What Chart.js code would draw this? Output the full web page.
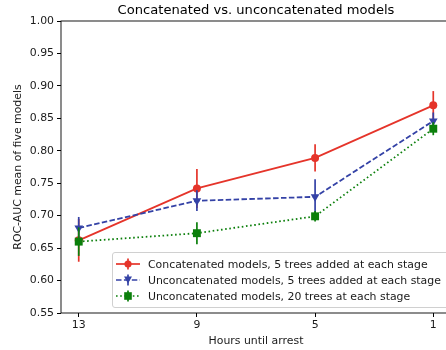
<!DOCTYPE html>
<html>
<head>
<meta charset="utf-8">
<script src="https://cdn.jsdelivr.net/npm/chart.js@4.4.1/dist/chart.umd.min.js"></script>
<style>
  html, body { margin: 0; padding: 0; overflow: hidden; background: #fff; }
  #wrap { position: relative; width: 512px; height: 350px; }
  #title {
    position: absolute; left: 56px; width: 400px; top: 2px; text-align: center;
    font-family: 'DejaVu Sans', sans-serif; font-size: 13.1px; color: #000; line-height: 16px;
  }
  #legend {
    position: absolute; left: 112px; top: 252px; width: 345px; height: 56px;
    border: 1px solid #d0d0d0; border-radius: 3px; background: rgba(255,255,255,0.85);
    font-family: 'DejaVu Sans', sans-serif; font-size: 10.9px; color: #1a1a1a;
    box-sizing: border-box; padding-top: 3px;
  }
  .row { height: 16px; display: flex; align-items: center; white-space: nowrap; }
  .row svg { margin-left: 2px; margin-right: 7px; flex: none; }
</style>
</head>
<body>
<div id="wrap">
  <canvas id="rocChart" width="512" height="350"></canvas>
  <div id="title">Concatenated vs. unconcatenated models</div>
  <div id="legend"></div>
</div>
<script>
// data
var hours = [13, 9, 5, 1];
var xTicks = [13, 9, 5, 1];
var seriesNames = [
  "Concatenated models, 5 trees added at each stage",
  "Unconcatenated models, 5 trees added at each stage",
  "Unconcatenated models, 20 trees at each stage"
];
var concat5 = [0.662, 0.742, 0.789, 0.870];
var concat5Err = [0.033, 0.030, 0.021, 0.022];
var unconcat5 = [0.681, 0.723, 0.729, 0.846];
var unconcat5Err = [0.017, 0.016, 0.027, 0.013];
var unconcat20 = [0.660, 0.673, 0.699, 0.834];
var unconcat20Err = [0.022, 0.017, 0.008, 0.010];

var colors = ["#e5342a", "#3442a6", "#0b7f0b"];
var dashes = [[], [5.5, 2.4], [1.6, 2.6]];

function points(vals) {
  return hours.map(function (h, i) { return { x: h, y: vals[i] }; });
}

var errorBars = {
  id: 'errorBars',
  beforeDatasetDraw: function (chart, args) {
    var ds = chart.data.datasets[args.index];
    var xs = chart.scales.x, ys = chart.scales.y, ctx = chart.ctx;
    ctx.save();
    ctx.strokeStyle = ds.borderColor;
    ctx.lineWidth = 1.7;
    ctx.setLineDash([]);
    ds.data.forEach(function (p, i) {
      var x = xs.getPixelForValue(p.x);
      ctx.beginPath();
      ctx.moveTo(x, ys.getPixelForValue(p.y - ds.err[i]));
      ctx.lineTo(x, ys.getPixelForValue(p.y + ds.err[i]));
      ctx.stroke();
    });
    ctx.restore();
  }
};

var frame = {
  id: 'frame',
  afterDraw: function (chart) {
    var a = chart.chartArea, ctx = chart.ctx;
    ctx.save();
    ctx.strokeStyle = '#000';
    ctx.lineWidth = 0.9;
    ctx.strokeRect(a.left, a.top, a.right - a.left, a.bottom - a.top);
    ctx.restore();
  }
};

var ctx = document.getElementById('rocChart').getContext('2d');

var chart = new Chart(ctx, {
  type: 'line',
  data: {
    datasets: [
      {
        label: seriesNames[0], data: points(concat5), err: concat5Err,
        borderColor: colors[0], backgroundColor: colors[0], borderWidth: 1.8,
        borderDash: dashes[0], pointStyle: 'circle', pointRadius: 4,
        pointBorderWidth: 0, order: 2
      },
      {
        label: seriesNames[1], data: points(unconcat5), err: unconcat5Err,
        borderColor: colors[1], backgroundColor: colors[1], borderWidth: 1.8,
        borderDash: dashes[1], pointStyle: 'triangle', pointRotation: 180, pointRadius: 5,
        pointBorderWidth: 0, order: 1
      },
      {
        label: seriesNames[2], data: points(unconcat20), err: unconcat20Err,
        borderColor: colors[2], backgroundColor: colors[2], borderWidth: 1.8,
        borderDash: dashes[2], pointStyle: 'rect', pointRadius: 5.6,
        pointBorderWidth: 0, order: 0
      }
    ]
  },
  options: {
    responsive: false,
    animation: false,
    devicePixelRatio: 1,
    layout: { padding: { left: 0, right: 61, top: 21, bottom: 0 } },
    plugins: {
      legend: { display: false },
      tooltip: { enabled: false },
      title: { display: false }
    },
    scales: {
      x: {
        type: 'linear', reverse: true, min: 0.4, max: 13.6,
        afterBuildTicks: function (scale) {
          scale.ticks = xTicks.map(function (v) { return { value: v }; });
        },
        afterFit: function (scale) { scale.height = 37; },
        border: { display: false },
        grid: { drawOnChartArea: false, drawTicks: true, tickLength: 4, tickColor: '#000' },
        ticks: {
          color: '#1a1a1a', padding: 2, maxRotation: 0,
          font: { family: 'DejaVu Sans', size: 10.9 },
          callback: function (v) { return String(v); }
        },
        title: {
          display: true, text: 'Hours until arrest', color: '#1a1a1a',
          font: { family: 'DejaVu Sans', size: 10.9 },
          padding: { top: 0, bottom: 2.5 }
        }
      },
      y: {
        min: 0.55, max: 1.0,
        afterFit: function (scale) { scale.width = 61; },
        border: { display: false },
        grid: { drawOnChartArea: false, drawTicks: true, tickLength: 4, tickColor: '#000' },
        ticks: {
          stepSize: 0.05, color: '#1a1a1a', padding: 3,
          font: { family: 'DejaVu Sans', size: 10.9 },
          callback: function (v) { return v.toFixed(2); }
        },
        title: {
          display: true, text: 'ROC-AUC mean of five models', color: '#1a1a1a',
          font: { family: 'DejaVu Sans', size: 10.9 },
          padding: { top: 11.5, bottom: 0 }
        }
      }
    }
  },
  plugins: [errorBars, frame]
});

// legend box (lower right, inside the plot like the reference)
var markerSvg = [
  '<line x1="1" y1="8" x2="25" y2="8" stroke="' + colors[0] + '" stroke-width="1.7"/>' +
  '<line x1="13" y1="2.5" x2="13" y2="13.5" stroke="' + colors[0] + '" stroke-width="1.7"/>' +
  '<circle cx="13" cy="8" r="3.6" fill="' + colors[0] + '"/>',
  '<line x1="1" y1="8" x2="25" y2="8" stroke="' + colors[1] + '" stroke-width="1.7" stroke-dasharray="5.5 2.4"/>' +
  '<line x1="13" y1="2.5" x2="13" y2="13.5" stroke="' + colors[1] + '" stroke-width="1.7"/>' +
  '<polygon points="9,4.5 17,4.5 13,11.5" fill="' + colors[1] + '"/>',
  '<line x1="1" y1="8" x2="25" y2="8" stroke="' + colors[2] + '" stroke-width="1.7" stroke-dasharray="1.6 2.6"/>' +
  '<line x1="13" y1="2.5" x2="13" y2="13.5" stroke="' + colors[2] + '" stroke-width="1.7"/>' +
  '<rect x="9.2" y="4.2" width="7.6" height="7.6" fill="' + colors[2] + '"/>'
];
var legendEl = document.getElementById('legend');
seriesNames.forEach(function (name, i) {
  var row = document.createElement('div');
  row.className = 'row';
  row.innerHTML = '<svg width="26" height="16" viewBox="0 0 26 16">' + markerSvg[i] + '</svg><span>' + name + '</span>';
  legendEl.appendChild(row);
});
</script>
</body>
</html>
